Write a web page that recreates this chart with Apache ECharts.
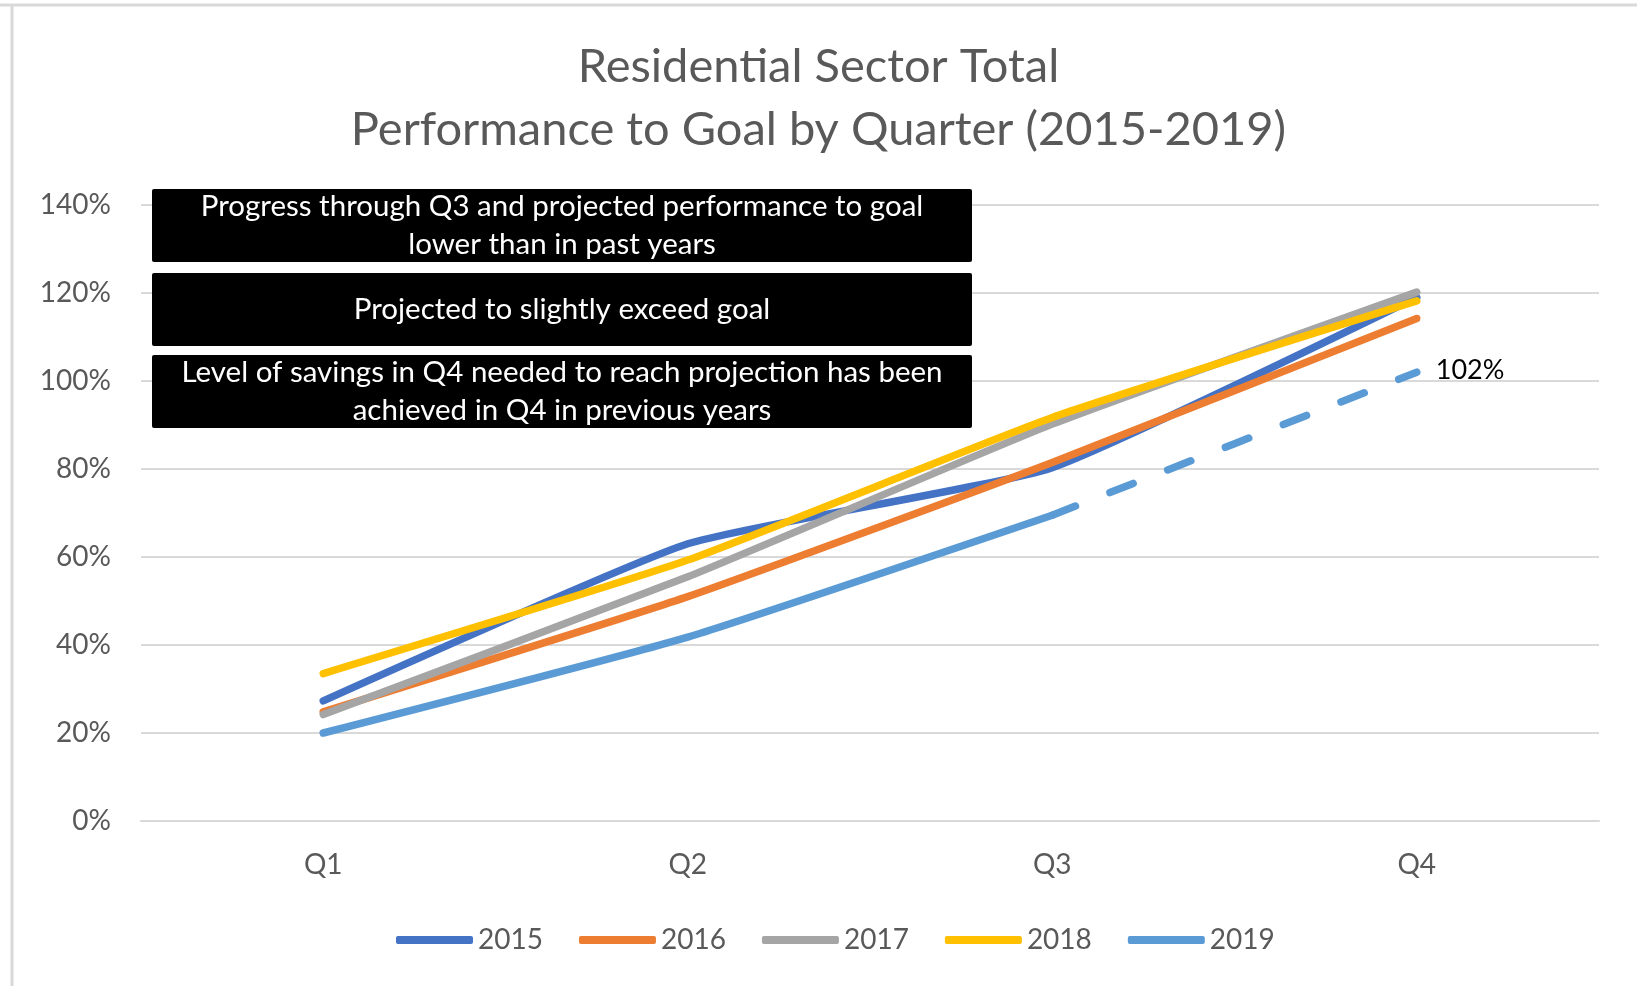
<!DOCTYPE html>
<html>
<head>
<meta charset="utf-8">
<title>Residential Sector Total</title>
<script src="https://cdn.jsdelivr.net/npm/echarts@6/dist/echarts.min.js"></script>
<style>
  html, body { margin: 0; padding: 0; background: #fff; }
  #chart { width: 1637px; height: 986px; }
</style>
</head>
<body>
<div id="chart"></div>
<script>
// data (percent of goal, cumulative)
const quarters = ["Q1", "Q2", "Q3", "Q4"];
const years = ["2015", "2016", "2017", "2018", "2019"];
const y2015 = [27.3, 63, 80.3, 119];
const y2016 = [24.8, 51, 81.5, 114.2];
const y2017 = [24.2, 55.5, 90.2, 120.2];
const y2018 = [33.5, 59.3, 91.7, 118.2];
const y2019 = [20, 41.8, 69.5, null];
// projected Q4 for 2019 (dashed)
const y2019Proj = [null, null, 69.5, 102];
const yMin = 0;
const yMax = 140;
const yStep = 20;

const notes = [
  "Progress through Q3 and projected performance to goal\nlower than in past years",
  "Projected to slightly exceed goal",
  "Level of savings in Q4 needed to reach projection has been\nachieved in Q4 in previous years"
];

const colors = ["#4472C4", "#ED7D31", "#A5A5A5", "#FFC000", "#5B9BD5"];
const FONT = "Lato";
const GREY = "#595959";

const chart = echarts.init(document.getElementById("chart"));

function lineSeries(name, data, color) {
  return {
    name: name,
    type: "line",
    data: data,
    smooth: 0.15,
    showSymbol: false,
    symbol: "none",
    lineStyle: { color: color, width: 7.5, cap: "round", join: "round" },
    itemStyle: { color: color }
  };
}

const seriesData = [y2015, y2016, y2017, y2018, y2019];
const series = years.map((y, i) => lineSeries(y, seriesData[i], colors[i]));

// dashed projection segment with its end label
const proj = lineSeries("2019 projected", y2019Proj.map((v, i) => {
  if (i === y2019Proj.length - 1) {
    return { value: v, label: { show: true } };
  }
  return v;
}), colors[4]);
proj.lineStyle.type = [25, 37];
// labels on a line series need symbols, so keep them but make them invisible
proj.showSymbol = true;
proj.symbol = "circle";
proj.symbolSize = 0;
proj.label = {
  show: false,
  position: "right",
  distance: 19,
  offset: [0, -2],
  formatter: p => p.value + "%",
  color: "#000",
  fontFamily: FONT,
  fontSize: 27
};
series.push(proj);

// annotation boxes
const boxLeft = 152, boxW = 820, boxH = 73;
const boxTops = [189, 273, 355];
const graphics = [
  // chart frame
  { type: "line", shape: { x1: 0, y1: 5, x2: 1637, y2: 5 }, style: { stroke: "#d9d9d9", lineWidth: 3 } },
  { type: "line", shape: { x1: 12, y1: 5, x2: 12, y2: 986 }, style: { stroke: "#d9d9d9", lineWidth: 3 } }
];
notes.forEach((t, i) => {
  graphics.push({
    type: "rect",
    left: boxLeft,
    top: boxTops[i],
    z: 100,
    shape: { width: boxW, height: boxH, r: 2 },
    style: { fill: "#000" }
  });
  graphics.push({
    type: "text",
    x: boxLeft + boxW / 2,
    y: boxTops[i] + boxH / 2,
    z: 101,
    style: {
      text: t,
      fill: "#fff",
      font: "29.5px " + FONT,
      align: "center",
      verticalAlign: "middle",
      lineHeight: 38
    }
  });
});

chart.setOption({
  animation: false,
  title: {
    text: "Residential Sector Total\nPerformance to Goal by Quarter (2015-2019)",
    left: "center",
    top: 35,
    padding: [0, 0, 0, 16],
    textStyle: {
      color: GREY,
      fontFamily: FONT,
      fontWeight: "normal",
      fontSize: 47,
      lineHeight: 63
    }
  },
  legend: {
    data: years,
    left: 391,
    top: 921,
    icon: "roundRect",
    itemWidth: 77,
    itemHeight: 8,
    itemGap: 36,
    textStyle: { color: GREY, fontFamily: FONT, fontSize: 28 }
  },
  grid: { left: 141, right: 38, top: 205, bottom: 165, containLabel: false },
  xAxis: {
    type: "category",
    data: quarters,
    boundaryGap: true,
    axisLine: { show: true, lineStyle: { color: "#d9d9d9", width: 2 } },
    axisTick: { show: false },
    axisLabel: { color: GREY, fontFamily: FONT, fontSize: 28, margin: 30 }
  },
  yAxis: {
    type: "value",
    min: yMin,
    max: yMax,
    interval: yStep,
    axisLine: { show: false },
    axisTick: { show: false },
    splitLine: { lineStyle: { color: "#d9d9d9", width: 2 } },
    axisLabel: { color: GREY, fontFamily: FONT, fontSize: 28, margin: 30, formatter: "{value}%" }
  },
  graphic: graphics,
  series: series
});
</script>
</body>
</html>
